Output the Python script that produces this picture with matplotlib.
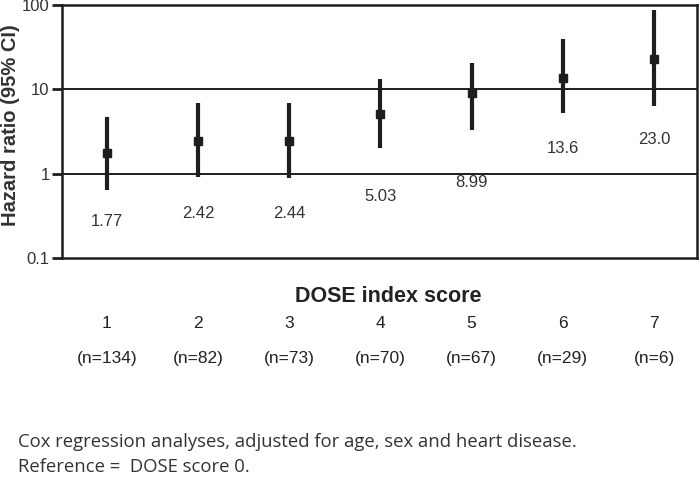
import matplotlib
matplotlib.use("Agg")
import matplotlib.pyplot as plt
import matplotlib.transforms as mtransforms
from matplotlib.ticker import FixedLocator, NullLocator, FixedFormatter

# data
scores = [1, 2, 3, 4, 5, 6, 7]
hazard = [1.77, 2.42, 2.44, 5.03, 8.99, 13.6, 23.0]
ci_low = [0.63, 0.91, 0.88, 2.0, 3.27, 5.2, 6.3]
ci_high = [4.74, 6.9, 6.77, 13.2, 20.7, 39.3, 87.6]
hr_labels = ['1.77', '2.42', '2.44', '5.03', '8.99', '13.6', '23.0']
n_labels = ['(n=134)', '(n=82)', '(n=73)', '(n=70)', '(n=67)', '(n=29)', '(n=6)']

# where each value label sits (y, data units)
label_y = [0.27, 0.34, 0.34, 0.53, 0.78, 2.0, 2.56]

plt.rcParams['font.family'] = ['Liberation Sans', 'DejaVu Sans']
ink = '#1e1e1e'

fig = plt.figure(figsize=(7, 4.83), dpi=100)
ax = fig.add_axes([0.0886, 0.466, 0.907, 0.524])

ax.set_yscale('log')
ax.set_ylim(0.1, 100)
ax.set_xlim(0.51, 7.47)

for y in [1, 10]:
    ax.axhline(y, color=ink, lw=1.4, zorder=1)

for x, lo, hi in zip(scores, ci_low, ci_high):
    ax.vlines(x, lo, hi, color=ink, lw=3.0, zorder=2)
ax.plot(scores, hazard, 's', color=ink, ms=6, zorder=3)

for x, y, t in zip(scores, label_y, hr_labels):
    ax.text(x, y, t, ha='center', va='center', fontsize=12, color='#333333')

ax.yaxis.set_major_locator(FixedLocator([0.1, 1, 10, 100]))
ax.yaxis.set_major_formatter(FixedFormatter(['0.1', '1', '10', '100']))
ax.yaxis.set_minor_locator(NullLocator())
ax.set_xticks([])
ax.tick_params(axis='y', length=7, width=2, labelsize=12, color=ink, labelcolor='#333333', pad=2)
for side in ['left', 'right', 'top', 'bottom']:
    ax.spines[side].set_color(ink)
    ax.spines[side].set_linewidth(1.8)

# y axis title
fig.text(11 / 700, 1 - 125 / 483, 'Hazard ratio (95% CI)', rotation=90, ha='center', va='center',
         fontsize=14.5, fontweight='bold', color='#333333')

# labels under the plot
trans = mtransforms.blended_transform_factory(ax.transData, fig.transFigure)
fig.text(0.555, 1 - 296 / 483, 'DOSE index score', ha='center', va='center',
         fontsize=15.5, fontweight='bold', color='#222222')
for x, n in zip(scores, n_labels):
    fig.text(x, 1 - 323 / 483, str(x), transform=trans, ha='center', va='center',
             fontsize=12.5, color='#222222')
    fig.text(x, 1 - 358 / 483, n, transform=trans, ha='center', va='center',
             fontsize=12.5, color='#222222')

fig.text(0.026, 1 - 442 / 483, 'Cox regression analyses, adjusted for age, sex and heart disease.',
         ha='left', va='center', fontsize=13.3, color='#333333', family=['Open Sans', 'DejaVu Sans'])
fig.text(0.026, 1 - 467 / 483, 'Reference =  DOSE score 0.',
         ha='left', va='center', fontsize=13.3, color='#333333', family=['Open Sans', 'DejaVu Sans'])

fig.savefig('out.png', dpi=100)
